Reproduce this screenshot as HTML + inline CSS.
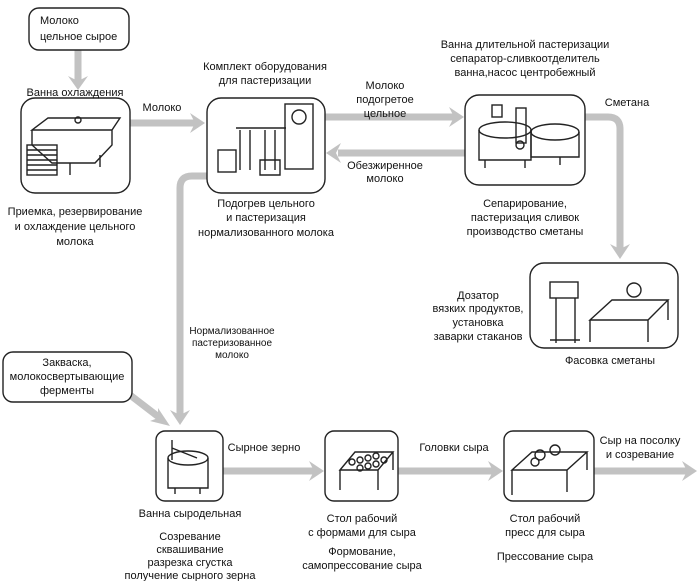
<!DOCTYPE html>
<html><head><meta charset="utf-8"><style>
html,body{margin:0;padding:0;background:#fff;}
svg{display:block;}
text{font-family:"Liberation Sans",sans-serif;font-size:11px;fill:#111;text-anchor:middle;}
.b{fill:#fff;stroke:#222;stroke-width:1.4;}
.p{stroke:#c2c2c2;stroke-width:7;fill:none;}
.h{fill:#c2c2c2;}
.d{fill:none;stroke:#222;stroke-width:1.4;}
</style></head><body>
<svg width="700" height="581" viewBox="0 0 700 581">
<!-- pipes -->
<line class="p" x1="78" y1="50" x2="78" y2="82"/>
<polygon class="h" points="68,76 78,90 88,76 78,81"/>
<line class="p" x1="130" y1="123" x2="196" y2="123"/>
<polygon class="h" points="190,113 205,123 190,133 195,123"/>
<line class="p" x1="325" y1="117" x2="455" y2="117"/>
<polygon class="h" points="449,107 464,117 449,127 454,117"/>
<line class="p" x1="338" y1="153" x2="465" y2="153"/>
<polygon class="h" points="341,143 326,153 341,163 336,153"/>
<path class="p" d="M585,117 H608 Q620,117 620,129 V250"/>
<polygon class="h" points="610,244 620,259 630,244 620,249"/>
<path class="p" d="M207,176 H192 Q180,176 180,188 V416"/>
<polygon class="h" points="170,410 180,425 190,410 180,415"/>
<line class="p" x1="130" y1="395" x2="160" y2="418"/>
<polygon class="h" points="158,408 170,426 150,421 158,418"/>
<line class="p" x1="223" y1="471" x2="315" y2="471"/>
<polygon class="h" points="309,461 324,471 309,481 314,471"/>
<line class="p" x1="398" y1="471" x2="494" y2="471"/>
<polygon class="h" points="488,461 503,471 488,481 493,471"/>
<line class="p" x1="594" y1="471" x2="688" y2="471"/>
<polygon class="h" points="682,461 697,471 682,481 687,471"/>
<!-- boxes -->
<rect class="b" x="29" y="8" width="100" height="42" rx="10"/>
<rect class="b" x="21" y="98" width="109" height="95" rx="14"/>
<rect class="b" x="207" y="98" width="118" height="95" rx="14"/>
<rect class="b" x="465" y="95" width="120" height="90" rx="14"/>
<rect class="b" x="530" y="263" width="148" height="85" rx="14"/>
<rect class="b" x="3" y="352" width="129" height="50" rx="10"/>
<rect class="b" x="156" y="431" width="67" height="70" rx="9"/>
<rect class="b" x="325" y="431" width="73" height="70" rx="9"/>
<rect class="b" x="504" y="431" width="90" height="70" rx="9"/>
<!-- equipment sketches -->
<g class="d">
<path d="M32,130 L48,118 H120 L112,130 Z M32,130 V145 L52,163 H95 L112,145 V130"/>
<rect x="27" y="145" width="30" height="30"/><path d="M27,150h30M27,155h30M27,160h30M27,165h30M27,170h30"/>
<path d="M70,163v12M100,155v12"/><circle cx="78" cy="120" r="3"/>
<rect x="285" y="104" width="28" height="65"/><circle cx="299" cy="117" r="7"/>
<rect x="218" y="150" width="18" height="22"/><path d="M240,130v40M250,130v40M265,130v40M275,130v40M236,128h50M260,160h20v15h-20z"/>
<ellipse cx="505" cy="130" rx="26" ry="8"/><path d="M479,130v30h52v-30"/><ellipse cx="555" cy="132" rx="24" ry="8"/><path d="M531,132v25h48v-25"/><rect x="516" y="108" width="10" height="35"/><rect x="492" y="105" width="10" height="12"/>
<path d="M485,160v8M525,160v8M560,157v8"/><circle cx="520" cy="145" r="4"/>
<path d="M590,320 L612,300 H668 L648,320 Z M590,320v22M648,320v22M668,300v20"/><rect x="550" y="282" width="28" height="16"/><path d="M556,298v45M575,298v45M550,340h30"/><circle cx="634" cy="290" r="7"/>
<path d="M168,458 v30 h40 v-30"/><ellipse cx="188" cy="458" rx="20" ry="7"/><path d="M172,448 l25,10 M172,440v20M175,488v6M200,488v6"/>
<path d="M340,470 l15,-18 h38 l-15,18 z M340,470v20M378,470v20M393,452v18"/>
<g><circle cx="352" cy="462" r="3"/><circle cx="360" cy="460" r="3"/><circle cx="368" cy="458" r="3"/><circle cx="376" cy="456" r="3"/><circle cx="360" cy="468" r="3"/><circle cx="368" cy="466" r="3"/><circle cx="376" cy="464" r="3"/><circle cx="384" cy="460" r="3"/></g>
<path d="M512,470 l20,-18 h55 l-20,18 z M512,470v25M567,470v22M587,452v18"/><circle cx="540" cy="455" r="5"/><circle cx="555" cy="450" r="5"/><circle cx="535" cy="462" r="4"/>
</g>
<!-- texts -->
<text x="40" y="24" style="text-anchor:start">Молоко</text>
<text x="40" y="40" style="text-anchor:start">цельное сырое</text>
<text x="75" y="96">Ванна охлаждения</text>
<text x="162" y="111">Молоко</text>
<text x="265" y="70">Комплект оборудования</text>
<text x="265" y="84">для пастеризации</text>
<text x="75" y="215">Приемка, резервирование</text>
<text x="75" y="230">и охлаждение цельного</text>
<text x="75" y="245">молока</text>
<text x="266" y="207">Подогрев цельного</text>
<text x="266" y="221">и пастеризация</text>
<text x="266" y="236">нормализованного молока</text>
<text x="525" y="48">Ванна длительной пастеризации</text>
<text x="525" y="62">сепаратор-сливкоотделитель</text>
<text x="525" y="76">ванна,насос центробежный</text>
<text x="385" y="89">Молоко</text>
<text x="385" y="103">подогретое</text>
<text x="385" y="117">цельное</text>
<text x="385" y="169">Обезжиренное</text>
<text x="385" y="182">молоко</text>
<text x="627" y="106">Сметана</text>
<text x="525" y="207">Сепарирование,</text>
<text x="525" y="221">пастеризация сливок</text>
<text x="525" y="235">производство сметаны</text>
<text x="478" y="299">Дозатор</text>
<text x="478" y="312">вязких продуктов,</text>
<text x="478" y="326">установка</text>
<text x="478" y="340">заварки стаканов</text>
<text x="610" y="364">Фасовка сметаны</text>
<text x="232" y="334" style="font-size:10px">Нормализованное</text>
<text x="232" y="346" style="font-size:10px">пастеризованное</text>
<text x="232" y="358" style="font-size:10px">молоко</text>
<text x="67" y="366">Закваска,</text>
<text x="67" y="380">молокосвертывающие</text>
<text x="67" y="394">ферменты</text>
<text x="264" y="451">Сырное зерно</text>
<text x="454" y="451">Головки сыра</text>
<text x="640" y="444">Сыр на посолку</text>
<text x="640" y="458">и созревание</text>
<text x="190" y="517">Ванна сыродельная</text>
<text x="190" y="540">Созревание</text>
<text x="190" y="553">сквашивание</text>
<text x="190" y="566">разрезка сгустка</text>
<text x="190" y="579">получение сырного зерна</text>
<text x="362" y="522">Стол рабочий</text>
<text x="362" y="536">с формами для сыра</text>
<text x="362" y="555">Формование,</text>
<text x="362" y="569">самопрессование сыра</text>
<text x="545" y="522">Стол рабочий</text>
<text x="545" y="536">пресс для сыра</text>
<text x="545" y="560">Прессование сыра</text>
</svg>
</body></html>
